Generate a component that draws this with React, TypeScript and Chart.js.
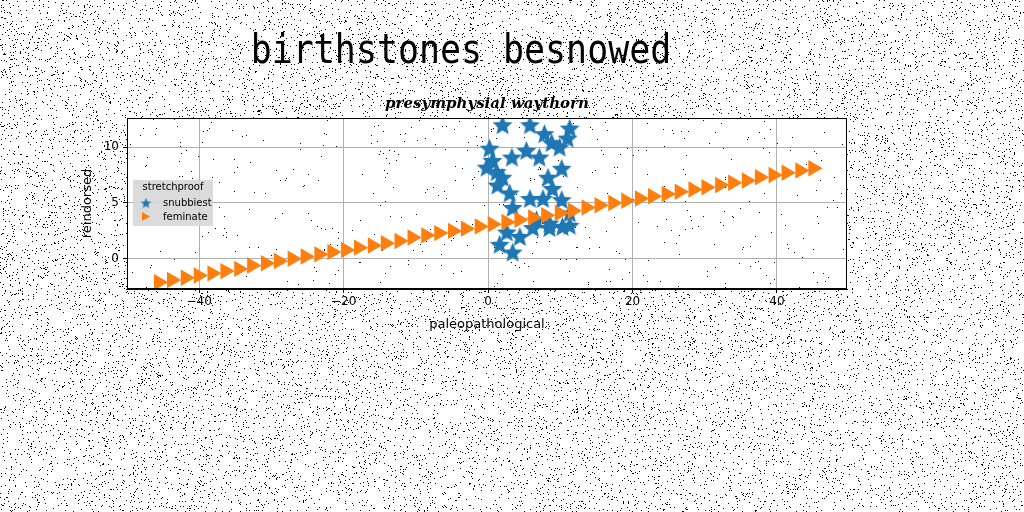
import React, { useEffect, useRef } from "react";
import { Chart, registerables } from "chart.js";
Chart.register(...registerables);

const starX = [2.0, 5.8, 7.8, 11.3, 11.0, 8.8, 9.9, 0.2, 3.3, 5.3, 7.1, 0.6, -0.2, 10.2, 1.2, 2.0, 1.3, 8.3, 8.9, 3.0, 5.8, 7.6, 10.2, 3.4, 11.3, 6.7, 8.5, 10.3, 11.3, 6.2, 2.6, 4.4, 1.6, 3.4, 8.5];
const starY = [12.0, 12.0, 11.2, 11.7, 10.8, 10.4, 10.0, 9.9, 9.1, 9.7, 9.1, 8.8, 8.2, 8.1, 7.8, 7.3, 6.6, 7.3, 6.3, 5.9, 5.4, 5.4, 5.3, 4.6, 4.1, 3.5, 3.2, 2.9, 3.0, 2.8, 2.4, 2.0, 1.3, 0.6, 2.8];
const triX = [-45.6, -43.8, -41.9, -40.1, -38.2, -36.4, -34.5, -32.7, -30.8, -29.0, -27.1, -25.3, -23.4, -21.6, -19.7, -17.9, -16.0, -14.2, -12.3, -10.5, -8.6, -6.8, -4.9, -3.1, -1.2, 0.6, 2.5, 4.3, 6.2, 8.0, 9.9, 11.7, 13.6, 15.4, 17.3, 19.1, 21.0, 22.8, 24.7, 26.5, 28.4, 30.2, 32.1, 33.9, 35.8, 37.6, 39.5, 41.3, 43.2, 45.0];
const triY = [-2.1, -1.9, -1.7, -1.5, -1.3, -1.1, -0.9, -0.6, -0.4, -0.2, 0.0, 0.2, 0.4, 0.6, 0.8, 1.0, 1.2, 1.4, 1.6, 1.9, 2.1, 2.3, 2.5, 2.7, 2.9, 3.1, 3.3, 3.5, 3.7, 3.9, 4.1, 4.3, 4.6, 4.8, 5.0, 5.2, 5.4, 5.6, 5.8, 6.0, 6.2, 6.4, 6.6, 6.8, 7.0, 7.3, 7.5, 7.7, 7.9, 8.1];
const xTicks = [-40, -20, 0, 20, 40];
const yTicks = [0, 5, 10];
const seriesNames = ["snubbiest", "feminate"];

const BLUE = "#1f77b4";
const ORANGE = "#ff7f0e";

function makeStar(r: number, color: string) {
  const c = document.createElement("canvas");
  const s = Math.ceil(r * 2 + 2);
  c.width = s; c.height = s;
  const g = c.getContext("2d")!;
  g.fillStyle = color;
  g.beginPath();
  for (let i = 0; i < 10; i++) {
    const rr = i % 2 === 0 ? r : r * 0.45;
    const a = -Math.PI / 2 + (i * Math.PI) / 5;
    const px = s / 2 + rr * Math.cos(a), py = s / 2 + rr * Math.sin(a) + r * 0.1;
    i === 0 ? g.moveTo(px, py) : g.lineTo(px, py);
  }
  g.closePath(); g.fill();
  return c;
}

function noise(ctx: CanvasRenderingContext2D, x0: number, y0: number, w: number, h: number, n: number, seed: number) {
  let s = seed >>> 0;
  const rnd = () => {
    s = (s + 0x6d2b79f5) >>> 0;
    let t = s;
    t = Math.imul(t ^ (t >>> 15), t | 1);
    t ^= t + Math.imul(t ^ (t >>> 7), t | 61);
    return ((t ^ (t >>> 14)) >>> 0) / 4294967296;
  };
  ctx.fillStyle = "#000";
  for (let i = 0; i < n; i++) ctx.fillRect(Math.floor(x0 + rnd() * w), Math.floor(y0 + rnd() * h), 1, 1);
}

export default function App() {
  const ref = useRef<HTMLCanvasElement>(null);
  useEffect(() => {
    const star = makeStar(10.5, BLUE);
    const fmt = (v: number) => String(v).replace("-", "\u2212");
    const deco = {
      id: "deco",
      beforeDraw(chart: any) {
        const ctx = chart.ctx;
        const a = chart.chartArea;
        ctx.save();
        ctx.fillStyle = "#fff"; ctx.fillRect(0, 0, 1024, 512);
        noise(ctx, 0, 0, 1024, 512, 24000, 7);
        ctx.fillStyle = "#fff"; ctx.fillRect(a.left, a.top, a.right - a.left, a.bottom - a.top);
        noise(ctx, a.left, a.top, a.right - a.left, a.bottom - a.top, 450, 13);
        ctx.restore();
      },
      afterDraw(chart: any) {
        const ctx = chart.ctx;
        const a = chart.chartArea;
        ctx.save();
        ctx.strokeStyle = "#000"; ctx.lineWidth = 1;
        ctx.strokeRect(a.left + 0.5, a.top + 0.5, a.right - a.left - 1, a.bottom - a.top - 1);
        ctx.fillStyle = "#000";
        ctx.textAlign = "center"; ctx.textBaseline = "middle";
        ctx.font = "36px 'DejaVu Sans Mono'";
        ctx.save(); ctx.translate(461, 52); ctx.scale(0.97, 1.15); ctx.fillText("birthstones besnowed", 0, 0); ctx.restore();
        ctx.font = "italic bold 15px 'DejaVu Serif'";
        ctx.fillText("presymphysial waythorn", (a.left + a.right) / 2, 104);
        ctx.font = "13px 'DejaVu Sans'";
        ctx.fillText("paleopathological", (a.left + a.right) / 2, 325);
        ctx.save(); ctx.translate(88, (a.top + a.bottom) / 2); ctx.rotate(-Math.PI / 2);
        ctx.fillText("reindorsed", 0, 0); ctx.restore();
        // legend
        ctx.fillStyle = "rgba(215,215,215,0.9)";
        ctx.fillRect(133, 180, 80, 46);
        ctx.fillStyle = "#000";
        ctx.font = "10px 'DejaVu Sans'";
        ctx.fillText("stretchproof", 173, 187);
        ctx.textAlign = "left";
        ctx.fillText(seriesNames[0], 163, 203);
        ctx.fillText(seriesNames[1], 163, 217);
        const sm = makeStar(5.5, BLUE);
        ctx.drawImage(sm, 146 - sm.width / 2, 203 - sm.height / 2);
        ctx.fillStyle = ORANGE;
        ctx.beginPath(); ctx.moveTo(142, 212); ctx.lineTo(150, 216.5); ctx.lineTo(142, 221); ctx.closePath(); ctx.fill();
        ctx.restore();
      },
    };
    const chart = new Chart(ref.current!, {
      type: "scatter",
      data: {
        datasets: [
          { label: seriesNames[0], order: 1, data: starX.map((x, i) => ({ x, y: starY[i] })), pointStyle: star as any, backgroundColor: BLUE, borderColor: BLUE },
          { label: seriesNames[1], order: 0, data: triX.map((x, i) => ({ x, y: triY[i] })), pointStyle: "triangle", rotation: 90, radius: 9.5, borderWidth: 0, backgroundColor: ORANGE, borderColor: ORANGE },
        ],
      },
      options: {
        animation: false, responsive: false, devicePixelRatio: 1,
        layout: { padding: { left: 0, top: 118, right: 177, bottom: 0 } },
        plugins: { legend: { display: false }, title: { display: false }, tooltip: { enabled: false } },
        scales: {
          x: {
            type: "linear", min: -50, max: 49.7,
            afterBuildTicks: (s: any) => { s.ticks = xTicks.map((v) => ({ value: v })); },
            afterFit: (s: any) => { s.height = 223; },
            grid: { color: "#b0b0b0", tickLength: 4, tickColor: "#000" },
            border: { color: "#000" },
            ticks: { color: "#000", font: { family: "DejaVu Sans", size: 12 }, callback: (v: any) => fmt(v), maxRotation: 0, padding: 2 },
          },
          y: {
            type: "linear", min: -2.7, max: 12.6,
            afterBuildTicks: (s: any) => { s.ticks = yTicks.map((v) => ({ value: v })); },
            afterFit: (s: any) => { s.width = 127; },
            grid: { color: "#b0b0b0", tickLength: 4, tickColor: "#000" },
            border: { color: "#000" },
            ticks: { color: "#000", font: { family: "DejaVu Sans", size: 12 }, callback: (v: any) => fmt(v), padding: 4 },
          },
        },
      },
      plugins: [deco],
    });
    return () => chart.destroy();
  }, []);
  return (
    <div style={{ position: "fixed", left: 0, top: 0, width: 1024, height: 512 }}>
      <canvas ref={ref} width={1024} height={512} style={{ width: 1024, height: 512 }} />
    </div>
  );
}
